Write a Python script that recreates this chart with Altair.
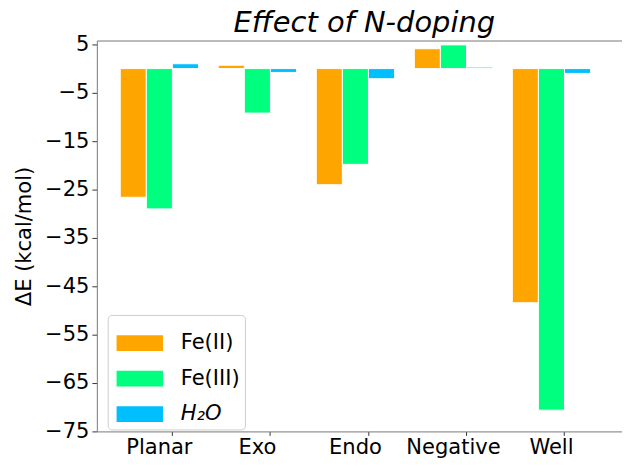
import altair as alt
import pandas as pd

sites = ["Planar", "Exo", "Endo", "Negative", "Well"]
series = ["Fe(II)", "Fe(III)", "H₂O"]
colors = ["#FFA500", "#00FF7F", "#00BFFF"]

fe2 = [-26.6, 0.7, -24.0, 4.1, -48.4]
fe3 = [-29.0, -9.2, -19.8, 4.9, -70.6]
h2o = [1.0, -0.8, -2.1, 0.3, -1.0]

y_ticks = [5, -5, -15, -25, -35, -45, -55, -65, -75]

rows = []
for s, vals in zip(series, [fe2, fe3, h2o]):
    for site, v in zip(sites, vals):
        rows.append({"site": site, "series": s, "value": v})
df = pd.DataFrame(rows)

FONT = "DejaVu Sans"
FS = 21.3

x_scale = alt.Scale(paddingInner=0.2014, paddingOuter=0.2795, align=0.427)
y_enc = alt.Y("value:Q", scale=alt.Scale(domain=[-75, 5.8], nice=False),
              axis=alt.Axis(values=y_ticks, grid=False, title="ΔE (kcal/mol)",
                            titleFontSize=FS, titleFont=FONT, titleFontWeight="normal",
                            titleColor="black", labelFontSize=FS, labelFont=FONT,
                            labelColor="black", tickSize=5, tickColor="#333",
                            domainColor="#777", titlePadding=10, labelPadding=3))

bars = alt.Chart(df).mark_bar(stroke="white", strokeWidth=1).encode(
    x=alt.X("site:N", sort=sites, scale=x_scale,
            axis=alt.Axis(title=None, labelAngle=0, bandPosition=2 / 3,
                          labelFontSize=FS, labelFont=FONT, labelColor="black",
                          tickSize=4, tickColor="#333", domainColor="#777",
                          labelPadding=1)),
    xOffset=alt.XOffset("series:N", sort=series,
                        scale=alt.Scale(paddingInner=0, paddingOuter=0)),
    y=y_enc,
    color=alt.Color("series:N", sort=series,
                    scale=alt.Scale(domain=series, range=colors),
                    legend=alt.Legend(
                        title=None, orient="none", legendX=11, legendY=278,
                        symbolType="M-1,-0.34L1,-0.34L1,0.34L-1,0.34Z",
                        symbolSize=2209, symbolStrokeWidth=0, symbolOffset=4,
                        labelFontSize=FS, labelFont=FONT, labelColor="black",
                        labelFontStyle={"expr": "datum.label == 'H₂O' ? 'italic' : 'normal'"},
                        labelOffset=18, rowPadding=2, padding=5,
                        fillColor="rgba(255,255,255,0.8)", strokeColor="#cccccc",
                        cornerRadius=4)),
)

top_spine = alt.Chart(df).mark_bar(opacity=0).encode(
    x=alt.X("site:N", sort=sites, scale=x_scale,
            axis=alt.Axis(orient="top", title=None, labels=False, ticks=False,
                          domainColor="#777")),
    xOffset=alt.XOffset("series:N", sort=series),
    y=y_enc,
)

chart = alt.layer(bars, top_spine).resolve_axis(x="independent").properties(
    width=532, height=396,
    title=alt.TitleParams("Effect of N-doping", fontSize=29.3, font=FONT,
                          fontStyle="italic", fontWeight="normal", color="black",
                          anchor="middle", offset=-5, dx=5),
    autosize=alt.AutoSizeParams(type="none"),
    padding={"left": 90, "right": 0, "top": 30, "bottom": 26},
).configure_view(stroke=None)

chart.save("out.html", embed_options={"renderer": "svg", "actions": False})
